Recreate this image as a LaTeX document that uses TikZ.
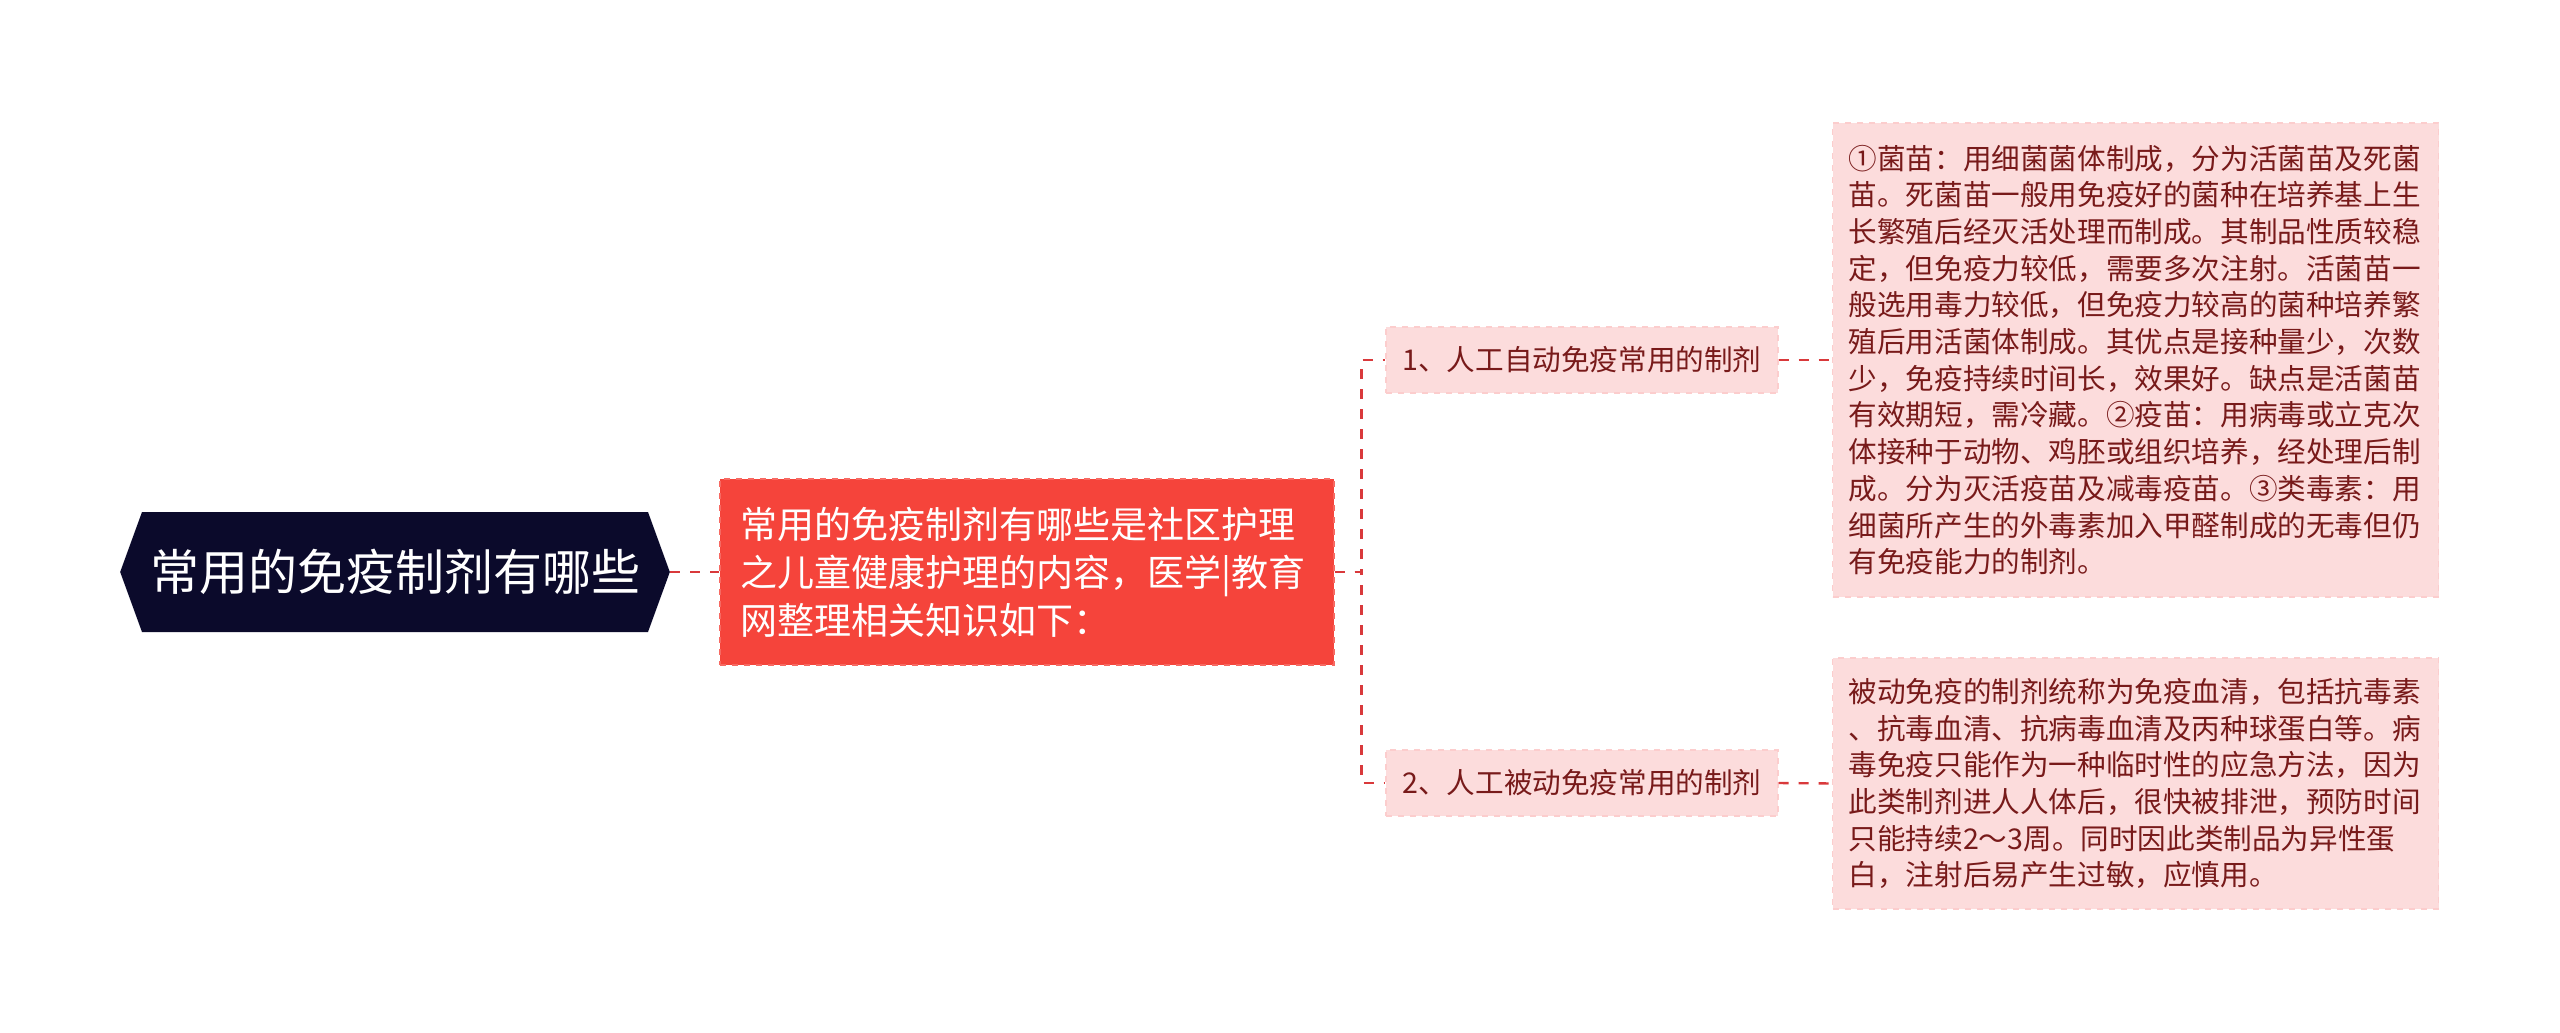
\documentclass[tikz,border=0pt]{standalone}
\usepackage{fontspec}
\usepackage{tikz}
\newfontfamily\cjk{Noto Sans CJK SC}
\usetikzlibrary{calc,positioning,shapes.symbols}
\definecolor{rootnavy}{HTML}{0B0A2B}
\definecolor{boxred}{HTML}{F5443B}
\definecolor{boxpink}{HTML}{FCDCDC}
\definecolor{inkred}{HTML}{781A1A}
\definecolor{linkred}{HTML}{D9393B}

\begin{document}
\begin{tikzpicture}[x=0.5pt,y=-0.5pt,
    topic/.style={shape=signal,signal to=west and east,signal pointer angle=140,fill=rootnavy,text=white,inner xsep=4pt,minimum height=60pt,font=\cjk\fontsize{24.5}{30}\selectfont},
    intro/.style={fill=boxred,draw=boxred!80!white,dashed,line width=0.8pt,text=white,align=left,text width=286pt,inner xsep=10.5pt,minimum height=93pt,font=\cjk\fontsize{18.5}{24}\selectfont},
    branch/.style={fill=boxpink,draw=boxpink!93!red,dashed,line width=0.7pt,text=inkred,minimum width=196pt,minimum height=33pt,font=\cjk\fontsize{14.3}{18}\selectfont},
    leaf/.style={fill=boxpink,draw=boxpink!93!red,dashed,line width=0.7pt,text=inkred,align=left,text width=287pt,inner xsep=8pt,font=\cjk\fontsize{14.3}{18.35}\selectfont},
    link/.style={draw=linkred,line width=1.2pt,dash pattern=on 5pt off 5pt}]
  \useasboundingbox (0,0) rectangle (2560,1033);

  \node[topic] (topic) at (395,572) {常用的免疫制剂有哪些};
  \node[intro,anchor=west] (intro) at (719,572) {常用的免疫制剂有哪些是社区护理\\之儿童健康护理的内容，医学|教育\\网整理相关知识如下：};

  \node[branch] (b1) at (1582,360) {1、人工自动免疫常用的制剂};
  \node[branch] (b2) at (1582,783) {2、人工被动免疫常用的制剂};

  \node[leaf,anchor=west,minimum height=237pt] (n1) at (1832,360) {①菌苗：用细菌菌体制成，分为活菌苗及死菌\\苗。死菌苗一般用免疫好的菌种在培养基上生\\长繁殖后经灭活处理而制成。其制品性质较稳\\定，但免疫力较低，需要多次注射。活菌苗一\\般选用毒力较低，但免疫力较高的菌种培养繁\\殖后用活菌体制成。其优点是接种量少，次数\\少，免疫持续时间长，效果好。缺点是活菌苗\\有效期短，需冷藏。②疫苗：用病毒或立克次\\体接种于动物、鸡胚或组织培养，经处理后制\\成。分为灭活疫苗及减毒疫苗。③类毒素：用\\细菌所产生的外毒素加入甲醛制成的无毒但仍\\有免疫能力的制剂。};
  \node[leaf,anchor=west,minimum height=125.5pt] (n2) at (1832,783.5) {被动免疫的制剂统称为免疫血清，包括抗毒素\\、抗毒血清、抗病毒血清及丙种球蛋白等。病\\毒免疫只能作为一种临时性的应急方法，因为\\此类制剂进人人体后，很快被排泄，预防时间\\只能持续2～3周。同时因此类制品为异性蛋\\白，注射后易产生过敏，应慎用。};

  \draw[link] (topic.east) -- (intro.west);
  \draw[link] (intro.east) -- ++(27,0) |- (b1.west);
  \draw[link] (intro.east) -- ++(27,0) |- (b2.west);
  \draw[link] (b1.east) -- (n1.west);
  \draw[link] (b2.east) -- (n2.west);
\end{tikzpicture}
\end{document}
